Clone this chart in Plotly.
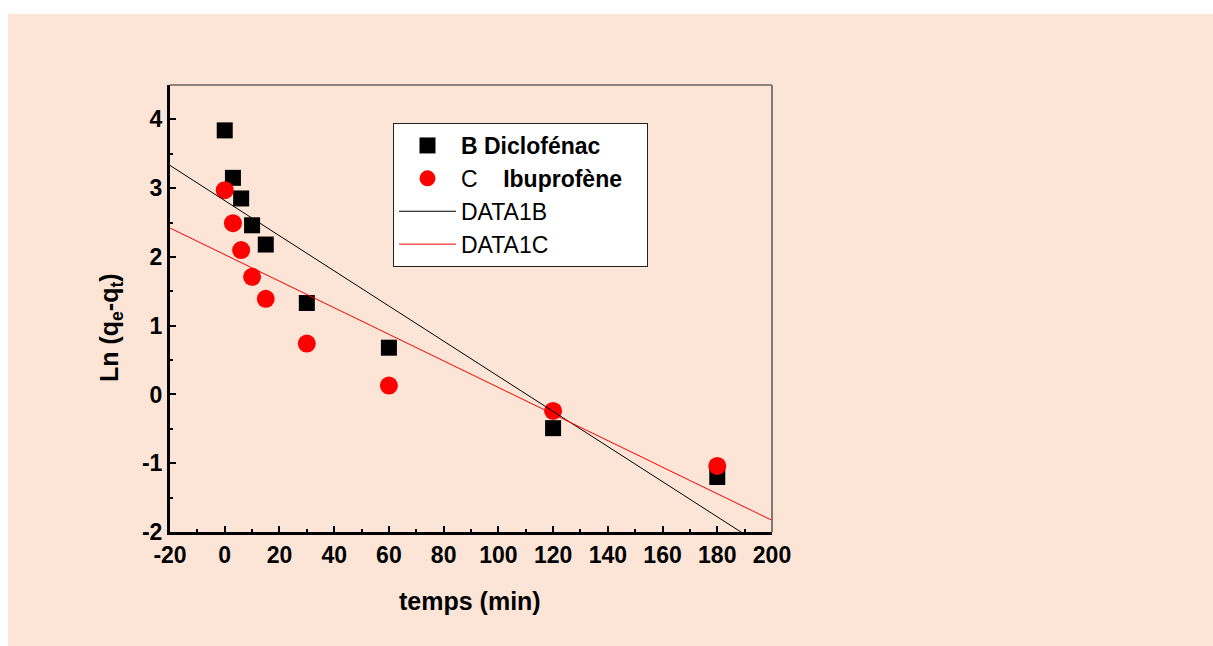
import plotly.graph_objects as go

# Data
temps = [0, 3, 6, 10, 15, 30, 60, 120, 180]
diclofenac = [3.84, 3.15, 2.85, 2.46, 2.18, 1.33, 0.68, -0.49, -1.20]
ibuprofene = [2.97, 2.49, 2.10, 1.71, 1.39, 0.74, 0.13, -0.24, -1.04]

# Fitted lines (end points)
fit_x = [-20, 200]
fit_b = [3.33, -2.29]
fit_c = [2.42, -1.83]

x_ticks = [-20, 0, 20, 40, 60, 80, 100, 120, 140, 160, 180, 200]
x_labels = ["-20", "0", "20", "40", "60", "80", "100", "120", "140", "160", "180", "200"]
y_ticks = [-2, -1, 0, 1, 2, 3, 4]
y_labels = ["-2", "-1", "0", "1", "2", "3", "4"]

PEACH = "#FCE4D6"
FONT = "Liberation Sans, Arial, sans-serif"
NB = "\u00a0"

fig = go.Figure()
fig.add_trace(go.Scatter(x=temps, y=diclofenac, mode="markers",
                         name="<b>B Diclofénac</b>",
                         marker=dict(symbol="square", size=16, color="black")))
fig.add_trace(go.Scatter(x=temps, y=ibuprofene, mode="markers",
                         name="C" + NB * 4 + "<b>Ibuprofène</b>" + NB * 3,
                         marker=dict(symbol="circle", size=18, color="red")))
fig.add_trace(go.Scatter(x=fit_x, y=fit_b, mode="lines", name="DATA1B",
                         line=dict(color="black", width=1)))
fig.add_trace(go.Scatter(x=fit_x, y=fit_c, mode="lines", name="DATA1C",
                         line=dict(color="red", width=1)))

W, H = 1213, 646
L, R, T, B = 170, 441, 85, 114
PW, PH = W - L - R, H - T - B

fig.update_layout(
    width=W, height=H,
    margin=dict(l=L, r=R, t=T, b=B),
    paper_bgcolor=PEACH,
    plot_bgcolor=PEACH,
    font=dict(family=FONT, color="black"),
    showlegend=True,
    legend=dict(x=(393 - L) / PW, y=(H - B - 123) / PH,
                xanchor="left", yanchor="top",
                bgcolor="white", bordercolor="#222222", borderwidth=1,
                font=dict(size=23, family=FONT, color="black"),
                itemwidth=57, tracegroupgap=0),
    xaxis=dict(range=[-20, 200], tickvals=x_ticks, ticktext=x_labels,
               ticks="inside", ticklen=6, tickwidth=2, tickcolor="black",
               minor=dict(dtick=10, ticks="inside", ticklen=3, tickwidth=2, tickcolor="black"),
               showline=True, linecolor="black", linewidth=3,
               showgrid=False, zeroline=False,
               tickfont=dict(size=23, family=FONT, weight="bold")),
    yaxis=dict(range=[-2, 4.5], tickvals=y_ticks, ticktext=y_labels,
               ticks="inside", ticklen=6, tickwidth=2, tickcolor="black",
               minor=dict(dtick=0.5, ticks="inside", ticklen=3, tickwidth=2, tickcolor="black"),
               showline=True, linecolor="black", linewidth=3,
               showgrid=False, zeroline=False,
               tickfont=dict(size=23, family=FONT, weight="bold")),
    annotations=[
        dict(text="<b>temps (min)</b>", xref="paper", yref="paper",
             x=(470 - L) / PW, y=(H - B - 601) / PH, xanchor="center", yanchor="middle",
             showarrow=False, font=dict(size=25, family=FONT, color="black")),
        dict(text="<b>Ln (q<sub>e</sub>-q<sub>t</sub>)</b>", xref="paper", yref="paper",
             x=(111 - L) / PW, y=(H - B - 328) / PH, xanchor="center", yanchor="middle",
             textangle=-90, showarrow=False,
             font=dict(size=25, family=FONT, color="black")),
    ],
    shapes=[
        # white margins top and left of the peach panel
        dict(type="rect", xref="paper", yref="paper",
             x0=-L / PW - 0.01, x1=(8 - L) / PW,
             y0=-B / PH - 0.01, y1=(H - B) / PH + 0.5,
             fillcolor="white", line=dict(width=0), layer="below"),
        dict(type="rect", xref="paper", yref="paper",
             x0=-L / PW - 0.01, x1=(W - L) / PW + 0.01,
             y0=(H - B - 14) / PH, y1=(H - B) / PH + 0.5,
             fillcolor="white", line=dict(width=0), layer="below"),
        # top and right frame lines
        dict(type="line", xref="paper", yref="paper", x0=0, x1=1, y0=1, y1=1,
             line=dict(color="#222222", width=1)),
        dict(type="line", xref="paper", yref="paper", x0=1, x1=1, y0=0, y1=1,
             line=dict(color="#85776f", width=2)),
    ],
)

fig.write_html("out.html")
